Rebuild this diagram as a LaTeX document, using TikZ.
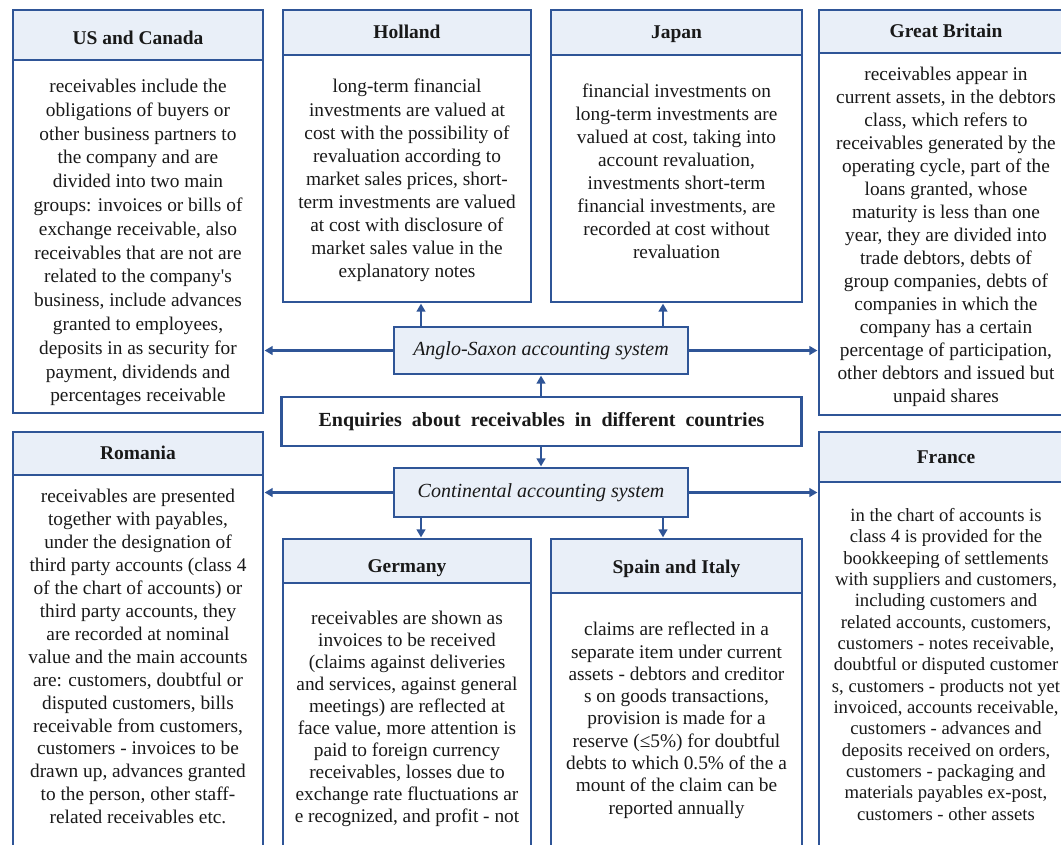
\documentclass[tikz,border=0pt]{standalone}
\usepackage{fontspec}
\setmainfont{Liberation Serif}
\usetikzlibrary{arrows.meta}
\definecolor{boxblue}{RGB}{47,85,151}
\definecolor{hdrfill}{RGB}{233,239,248}
\definecolor{txt}{RGB}{25,25,25}
\def\PX{0.75pt}
\tikzset{
  base/.style={draw=boxblue, line width=2.2pt, text=txt, inner sep=0pt, outer sep=0pt, align=center},
  hdr/.style={base, fill=hdrfill, text height=11pt, text depth=1.3pt, font=\fontsize{14.6pt}{17pt}\selectfont\bfseries},
  bodyframe/.style={base, fill=white},
  bodytext/.style={text=txt, inner sep=0pt, outer sep=0pt, align=center},
  sysbox/.style={base, fill=hdrfill, minimum width=294*\PX, font=\fontsize{15pt}{18pt}\selectfont\itshape},
  arr/.style={draw=boxblue, line width=2.2pt, -{Triangle[length=6pt,width=6.5pt]}, shorten >=1.2pt},
}
\begin{document}
\begin{tikzpicture}[x=0.75pt,y=-0.75pt]
\path[use as bounding box] (0,0) rectangle (1061,844);
\clip (0,0) rectangle (1061,844);

% ---------- US and Canada ----------
\node[hdr, text height=15.5pt, minimum width=250*\PX, minimum height=50*\PX, anchor=north west] (usH) at (13,10) {US and Canada};
\node[bodyframe, minimum width=250*\PX, minimum height=353*\PX, anchor=north] (usB) at (usH.south) {};
\node[bodytext, font=\fontsize{14.5pt}{17.85pt}\selectfont] (usT) at ([yshift=-6*\PX]usB.center) {receivables include the\\
obligations of buyers or\\
other business partners to\\
the company and are\\
divided into two main\\
groups: invoices or bills of\\
exchange receivable, also\\
receivables that are not are\\
related to the company\textquotesingle s\\
business, include advances\\
granted to employees,\\
deposits in as security for\\
payment, dividends and\\
percentages receivable};

% ---------- Holland ----------
\node[hdr, minimum width=248*\PX, minimum height=45*\PX, anchor=north west] (holH) at (283,10) {Holland};
\node[bodyframe, minimum width=248*\PX, minimum height=247*\PX, anchor=north] (holB) at (holH.south) {};
\node[bodytext, font=\fontsize{14.5pt}{17.3pt}\selectfont] (holT) at ([yshift=-2*\PX]holB.center) {long-term financial\\
investments are valued at\\
cost with the possibility of\\
revaluation according to\\
market sales prices, short-\\
term investments are valued\\
at cost with disclosure of\\
market sales value in the\\
explanatory notes};

% ---------- Japan ----------
\node[hdr, minimum width=251*\PX, minimum height=45*\PX, anchor=north west] (jpH) at (551,10) {Japan};
\node[bodyframe, minimum width=251*\PX, minimum height=247*\PX, anchor=north] (jpB) at (jpH.south) {};
\node[bodytext, font=\fontsize{14.5pt}{17.3pt}\selectfont] (jpT) at ([yshift=7*\PX]jpB.center) {financial investments on\\
long-term investments are\\
valued at cost, taking into\\
account revaluation,\\
investments short-term\\
financial investments, are\\
recorded at cost without\\
revaluation};

% ---------- Great Britain ----------
\node[hdr, minimum width=254*\PX, minimum height=43*\PX, anchor=north west] (gbH) at (819,10) {Great Britain};
\node[bodyframe, minimum width=254*\PX, minimum height=362*\PX, anchor=north] (gbB) at (gbH.south) {};
\node[bodytext, font=\fontsize{14.5pt}{17.25pt}\selectfont] (gbT) at ([yshift=-3*\PX]gbB.center) {receivables appear in\\
current assets, in the debtors\\
class, which refers to\\
receivables generated by the\\
operating cycle, part of the\\
loans granted, whose\\
maturity is less than one\\
year, they are divided into\\
trade debtors, debts of\\
group companies, debts of\\
companies in which the\\
company has a certain\\
percentage of participation,\\
other debtors and issued but\\
unpaid shares};

% ---------- Romania ----------
\node[hdr, minimum width=250*\PX, minimum height=43*\PX, anchor=north west] (roH) at (13,432) {Romania};
\node[bodyframe, minimum width=250*\PX, minimum height=420*\PX, anchor=north] (roB) at (roH.south) {};
\node[bodytext, anchor=north, font=\fontsize{14.5pt}{17.2pt}\selectfont] (roT) at ([yshift=-14.3*\PX]roH.south) {receivables are presented\\
together with payables,\\
under the designation of\\
third party accounts (class 4\\
of the chart of accounts) or\\
third party accounts, they\\
are recorded at nominal\\
value and the main accounts\\
are: customers, doubtful or\\
disputed customers, bills\\
receivable from customers,\\
customers - invoices to be\\
drawn up, advances granted\\
to the person, other staff-\\
related receivables etc.};

% ---------- Germany ----------
\node[hdr, text height=18.5pt, minimum width=248*\PX, minimum height=44*\PX, anchor=north west] (deH) at (283,539) {Germany};
\node[bodyframe, minimum width=248*\PX, minimum height=320*\PX, anchor=north] (deB) at (deH.south) {};
\node[bodytext, anchor=north, font=\fontsize{14.5pt}{16.5pt}\selectfont] (deT) at ([yshift=-27.8*\PX]deH.south) {receivables are shown as\\
invoices to be received\\
(claims against deliveries\\
and services, against general\\
meetings) are reflected at\\
face value, more attention is\\
paid to foreign currency\\
receivables, losses due to\\
exchange rate fluctuations ar\\
e recognized, and profit - not};

% ---------- Spain and Italy ----------
\node[hdr, text height=13pt, minimum width=251*\PX, minimum height=54*\PX, anchor=north west] (esH) at (551,539) {Spain and Italy};
\node[bodyframe, minimum width=251*\PX, minimum height=310*\PX, anchor=north] (esB) at (esH.south) {};
\node[bodytext, anchor=north, font=\fontsize{14.5pt}{16.7pt}\selectfont] (esT) at ([yshift=-29.3*\PX]esH.south) {claims are reflected in a\\
separate item under current\\
assets - debtors and creditor\\
s on goods transactions,\\
provision is made for a\\
reserve (≤5\%) for doubtful\\
debts to which 0.5\% of the a\\
mount of the claim can be\\
reported annually};

% ---------- France ----------
\node[hdr, minimum width=254*\PX, minimum height=50*\PX, anchor=north west] (frH) at (819,432) {France};
\node[bodyframe, minimum width=254*\PX, minimum height=420*\PX, anchor=north] (frB) at (frH.south) {};
\node[bodytext, anchor=north, font=\fontsize{14pt}{16pt}\selectfont] (frT) at ([yshift=-26.2*\PX]frH.south) {in the chart of accounts is\\
class 4 is provided for the\\
bookkeeping of settlements\\
with suppliers and customers,\\
including customers and\\
related accounts, customers,\\
customers - notes receivable,\\
doubtful or disputed customer\\
s, customers - products not yet\\
invoiced, accounts receivable,\\
customers - advances and\\
deposits received on orders,\\
customers - packaging and\\
materials payables ex-post,\\
customers - other assets};

% ---------- central boxes ----------
\node[sysbox, minimum height=47*\PX] (anglo) at (541,350.5) {Anglo-Saxon accounting system};
\node[base, fill=white, minimum width=520*\PX, minimum height=49*\PX,
      font=\fontsize{15pt}{18pt}\selectfont\bfseries] (enq) at (541.5,421.5)
      {\spaceskip=7.5pt plus 1pt Enquiries about receivables in different countries};
\node[sysbox, minimum height=49*\PX] (cont) at (541,492.5) {Continental accounting system};

% ---------- connectors ----------
\coordinate (hx) at (421,0);
\coordinate (jx) at (663,0);
\draw[arr] (hx |- anglo.north) -- (hx |- holB.south);
\draw[arr] (jx |- anglo.north) -- (jx |- jpB.south);
\draw[arr] (anglo.west) -- (anglo.west -| usB.east);
\draw[arr] (anglo.east) -- (anglo.east -| gbB.west);
\draw[arr] (enq.north -| anglo.south) -- (anglo.south);
\draw[arr] (enq.south -| cont.north) -- (cont.north);
\draw[arr] (cont.west) -- (cont.west -| roB.east);
\draw[arr] (cont.east) -- (cont.east -| frB.west);
\draw[arr] (hx |- cont.south) -- (hx |- deH.north);
\draw[arr] (jx |- cont.south) -- (jx |- esH.north);
\end{tikzpicture}
\end{document}
